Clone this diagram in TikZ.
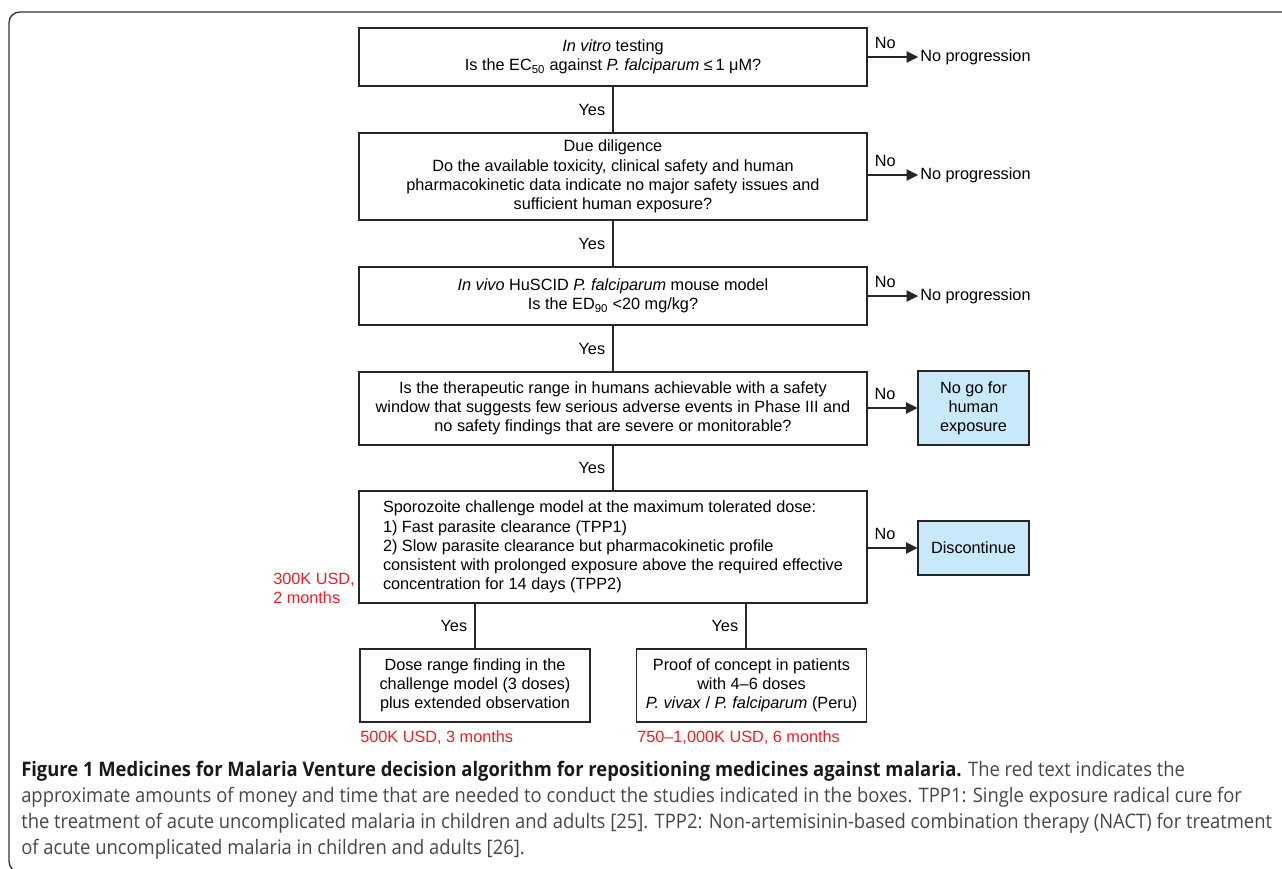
\documentclass[tikz,border=0pt]{standalone}
\usepackage{fontspec}
\setmainfont{Liberation Sans}
\newfontfamily\capfont[FakeStretch=0.92]{Open Sans}
\usetikzlibrary{arrows.meta}

\definecolor{stopblue}{RGB}{200,233,249}
\definecolor{costred}{RGB}{232,32,40}
\definecolor{capgrey}{RGB}{70,70,70}

\begin{document}
\begin{tikzpicture}[x=0.75pt,y=0.75pt,yscale=-1,
  qbox/.style={draw=black!85,line width=0.8pt,align=center,inner sep=0pt,font=\fontsize{12.2}{14.4}\selectfont},
  stopbox/.style={qbox,fill=stopblue,minimum width=83.25pt},
  lbl/.style={inner sep=1.5pt,font=\fontsize{12.2}{14.4}\selectfont},
  cost/.style={lbl,text=costred,align=left},
  link/.style={draw=black!85,line width=0.8pt},
  nolink/.style={link,-{Triangle[length=8.5pt,width=8.5pt]}}]
\useasboundingbox (0,0) rectangle (1282,868);

%outer frame
\draw [draw=black!80,line width=1pt,rounded corners=8pt] (9,12) rectangle (1300,872);

% Question boxes
\node [qbox,minimum width=381pt,minimum height=43.5pt] (q1) at (613,57)
  {\textit{In vitro} testing\\Is the EC\textsubscript{50} against \textit{P. falciparum} ≤\,1 μM?};
\node [qbox,minimum width=381pt,minimum height=65.25pt] (q2) at (613,176.5)
  {Due diligence\\Do the available toxicity, clinical safety and human\\pharmacokinetic data indicate no major safety issues and\\sufficient human exposure?};
\node [qbox,minimum width=381pt,minimum height=43.5pt] (q3) at (613,296)
  {\textit{In vivo} HuSCID \textit{P. falciparum} mouse model\\Is the ED\textsubscript{90} <20 mg/kg?};
\node [qbox,minimum width=381pt,minimum height=54.75pt] (q4) at (613,408.5)
  {Is the therapeutic range in humans achievable with a safety\\window that suggests few serious adverse events in Phase III and\\no safety findings that are severe or monitorable?};
\node [qbox,minimum width=381pt,minimum height=84pt,align=left] (q5) at (613,547)
  {Sporozoite challenge model at the maximum tolerated dose:\\1) Fast parasite clearance (TPP1)\\2) Slow parasite clearance but pharmacokinetic profile\\consistent with prolonged exposure above the required effective\\concentration for 14 days (TPP2)};

% Study boxes
\node [qbox,minimum width=172.5pt,minimum height=54.75pt] (p1) at (475,685.5)
  {Dose range finding in the\\challenge model (3 doses)\\plus extended observation};
\node [qbox,minimum width=172pt,minimum height=54.75pt] (p2) at (751.5,685.5)
  {Proof of concept in patients\\with 4--6 doses\\\textit{P. vivax} / \textit{P. falciparum} (Peru)};
\coordinate (p2top) at (746,649);

% Outcomes
\node [lbl,anchor=west] (n1) at (918,57) {No progression};
\node [lbl,anchor=west] (n2) at (918,175) {No progression};
\node [lbl,anchor=west] (n3) at (918,296) {No progression};
\node [stopbox,minimum height=55.5pt] (nogo) at (973.5,408) {No go for\\human\\exposure};
\node [stopbox,minimum height=40.5pt] (disc) at (973.5,548) {Discontinue};

% Yes links
\draw [link] (q1) -- (q2) node [lbl,midway,left=4pt] {Yes};
\draw [link] (q2) -- (q3) node [lbl,midway,left=4pt] {Yes};
\draw [link] (q3) -- (q4) node [lbl,midway,left=4pt] {Yes};
\draw [link] (q4) -- (q5) node [lbl,midway,left=4pt] {Yes};
\draw [link] (q5.south -| p1.north) -- (p1.north) node [lbl,midway,left=4pt] {Yes};
\draw [link] (q5.south -| p2top) -- (p2top) node [lbl,midway,left=4pt] {Yes};

% No links
\draw [nolink] (q1.east |- n1.west) -- (n1.west) node [lbl,pos=0.35,above=4pt] {No};
\draw [nolink] (q2.east |- n2.west) -- (n2.west) node [lbl,pos=0.35,above=4pt] {No};
\draw [nolink] (q3.east |- n3.west) -- (n3.west) node [lbl,pos=0.35,above=4pt] {No};
\draw [nolink] (q4.east |- nogo.west) -- (nogo.west) node [lbl,pos=0.35,above=4pt] {No};
\draw [nolink] (q5.east |- disc.west) -- (disc.west) node [lbl,pos=0.35,above=4pt] {No};

% Costs
\node [cost,anchor=west] (c5) at (271,588) {300K USD,\\2 months};
\node [cost,anchor=west] (c6) at (358,738) {500K USD, 3 months};
\node [cost,anchor=west] (c7) at (635,738) {750--1,000K USD, 6 months};

% Caption
\node [anchor=north west,align=left,inner sep=0pt,text=capgrey,font=\capfont\fontsize{15}{19.4}\selectfont] (cap) at (21,761)
  {\textbf{\color{black!90}Figure 1 Medicines for Malaria Venture decision algorithm for repositioning medicines against malaria.} The red text indicates the\\
   approximate amounts of money and time that are needed to conduct the studies indicated in the boxes. TPP1: Single exposure radical cure for\\
   the treatment of acute uncomplicated malaria in children and adults [25]. TPP2: Non-artemisinin-based combination therapy (NACT) for treatment\\
   of acute uncomplicated malaria in children and adults [26].};
\end{tikzpicture}
\end{document}
